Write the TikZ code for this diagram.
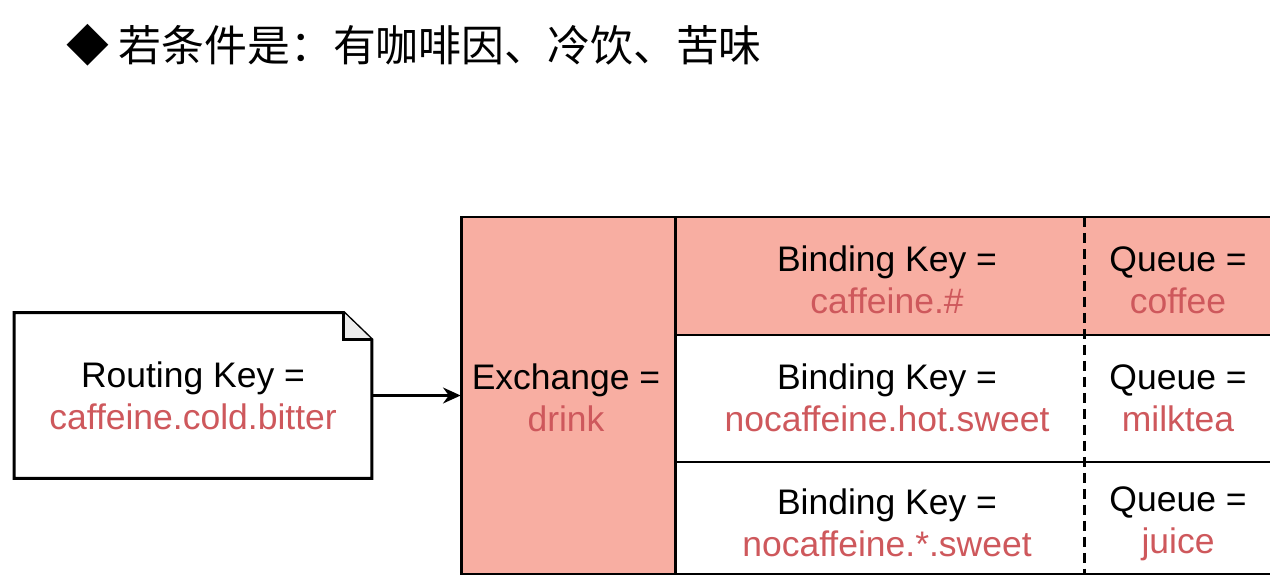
\documentclass[tikz,border=0pt]{standalone}
\usepackage{fontspec}
\setmainfont{Liberation Sans}
\newfontfamily\cjk{Noto Sans CJK SC}
\usetikzlibrary{arrows.meta}
\definecolor{salmon}{RGB}{248,174,162}
\definecolor{keyred}{RGB}{206,88,92}
\definecolor{foldgray}{RGB}{236,236,236}
\tikzset{
  label text/.style={align=center, inner sep=0pt,
    font=\fontsize{20.2}{23.8}\selectfont},
  box line/.style={line width=1.7pt},
}
\newcommand{\keyval}[1]{\textcolor{keyred}{#1}}
\begin{document}
\begin{tikzpicture}[x=0.02cm, y=-0.02cm]
   \useasboundingbox (0,0) rectangle (1270,584);
   % title
   \node[anchor=west, inner sep=0pt, font=\cjk\fontsize{24.4}{28}\selectfont] (title) at (66,45) {◆ 若条件是：有咖啡因、冷饮、苦味};
   % message with routing key
   \node[label text, minimum width=7.14cm, minimum height=3.3cm] (routing) at (193,395.5) {Routing Key =\\ \keyval{caffeine.cold.bitter}};
   \draw[box line, fill=white] (routing.south west) -- (routing.north west) -- ([xshift=-0.56cm]routing.north east) -- ([yshift=-0.54cm]routing.north east) -- (routing.south east) -- cycle;
   \draw[box line, fill=foldgray] ([xshift=-0.56cm]routing.north east) -- ([xshift=-0.56cm, yshift=-0.54cm]routing.north east) -- ([yshift=-0.54cm]routing.north east);
   \node[label text] at (routing.center) {Routing Key =\\ \keyval{caffeine.cold.bitter}};
   % exchange and bindings
   \fill[salmon] (461,217) rectangle (675,574);
   \fill[salmon] (675,217) rectangle (1272,335);
   \node[minimum width=4.28cm, minimum height=7.14cm, inner sep=0pt] (exchange) at (568,395.5) {};
   \node[label text] (exname) at (566,398) {Exchange =\\ \keyval{drink}};
   \node[label text] (bind1) at (887,280) {Binding Key =\\ \keyval{caffeine.\#}};
   \node[label text] (bind2) at (887,398) {Binding Key =\\ \keyval{nocaffeine.hot.sweet}};
   \node[label text] (bind3) at (887,523) {Binding Key =\\ \keyval{nocaffeine.*.sweet}};
   \node[label text] (queue1) at (1178,280) {Queue =\\ \keyval{coffee}};
   \node[label text] (queue2) at (1178,398) {Queue =\\ \keyval{milktea}};
   \node[label text] (queue3) at (1178,524) {Queue =\\ \keyval{juice}};
   \draw[box line] (1272,217) -- (461,217) -- (461,574) -- (1272,574);
   \draw[box line] (675,217) -- (675,574);
   \draw[box line] (675,335) -- (1272,335);
   \draw[box line] (675,462) -- (1272,462);
   \draw[box line, dash pattern=on 5.7pt off 3.4pt] (1084,217) -- (1084,574);
   \draw[box line, -{Stealth[length=10pt, width=9pt]}] (routing.east) -- (exchange.west);
\end{tikzpicture}
\end{document}
